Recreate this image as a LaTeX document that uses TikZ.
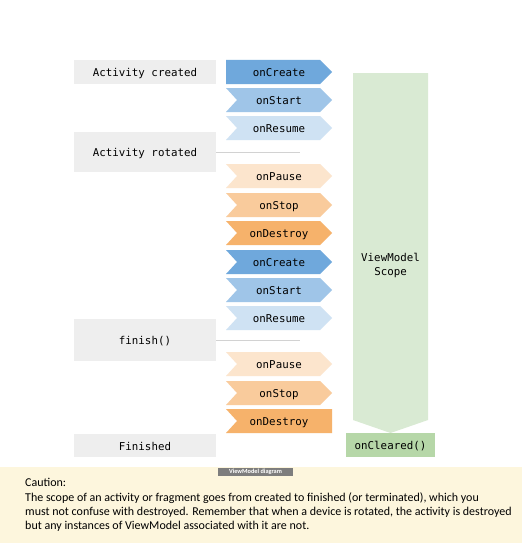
\documentclass[tikz,border=0pt]{standalone}
\usepackage{fontspec}
\setmainfont{Carlito}
\setmonofont{DejaVu Sans Mono}
\definecolor{graybox}{RGB}{238,238,238}
\definecolor{cblue}{RGB}{111,168,220}
\definecolor{cbluemid}{RGB}{159,197,232}
\definecolor{cbluelight}{RGB}{207,226,243}
\definecolor{corlight}{RGB}{252,229,205}
\definecolor{cormid}{RGB}{249,203,156}
\definecolor{cordark}{RGB}{246,178,107}
\definecolor{scopegreen}{RGB}{217,234,211}
\definecolor{cleargreen}{RGB}{182,215,168}
\definecolor{cautionbg}{RGB}{253,246,221}
\definecolor{linegray}{RGB}{210,210,210}
\definecolor{labelgray}{RGB}{125,125,125}
\tikzset{
  monotext/.style={font=\fontsize{10.8}{13}\selectfont\ttfamily, text=black, inner sep=0pt, anchor=base},
  graystate/.style={fill=graybox},
  sepline/.style={draw=linegray, line width=0.8pt},
  cautiontext/.style={anchor=base west, inner sep=0pt, font=\fontsize{12}{14}\selectfont},
}
% chevron: name, top y, colour, text, left notch (0/11), right tip (0/12)
\newcommand\chevshape[6]{%
  \fill[#3] (226,#2) -- (320+#6,#2) -- (332,#2+12) -- (320+#6,#2+24) -- (226,#2+24) -- (226+#5,#2+12) -- cycle;
  \node[monotext] (#1) at (279,#2+16.5) {#4};
}
\begin{document}
\begin{tikzpicture}[x=1pt,y=-1pt]
\useasboundingbox (0,0) rectangle (522,543);
\fill[white] (0,0) rectangle (522,543);
% caution panel
\fill[cautionbg] (0,467) rectangle (522,543);
% left state boxes
\fill[graystate] (74,60) rectangle (216,84);
\node[monotext] (created) at (145,76.5) {Activity created};
\fill[graystate] (74,132) rectangle (216,172);
\node[monotext] (rotated) at (145,156.5) {Activity rotated};
\coordinate (rotend) at (300,152);
\fill[graystate] (74,319) rectangle (216,361);
\node[monotext] (finish) at (145,344.5) {finish()};
\coordinate (finend) at (300,340);
\fill[graystate] (74,434) rectangle (216,457);
\node[monotext] (finished) at (145,450) {Finished};
\coordinate (rotstart) at (216,152);
\coordinate (finstart) at (216,340);
\draw[sepline] (rotstart) -- (rotend);
\draw[sepline] (finstart) -- (finend);
% chevrons
\chevshape{c1}{60}{cblue}{onCreate}{0}{0}
\chevshape{c2}{88}{cbluemid}{onStart}{11}{0}
\chevshape{c3}{116}{cbluelight}{onResume}{11}{0}
\chevshape{c4}{164}{corlight}{onPause}{11}{0}
\chevshape{c5}{193}{cormid}{onStop}{11}{0}
\chevshape{c6}{221}{cordark}{onDestroy}{11}{0}
\chevshape{c7}{250}{cblue}{onCreate}{11}{0}
\chevshape{c8}{278}{cbluemid}{onStart}{11}{0}
\chevshape{c9}{306}{cbluelight}{onResume}{11}{0}
\chevshape{c10}{352}{corlight}{onPause}{11}{0}
\chevshape{c11}{381}{cormid}{onStop}{11}{0}
\chevshape{c12}{409}{cordark}{onDestroy}{11}{12}
% scope arrow
\fill[scopegreen] (353,73) -- (428,73) -- (428,420) -- (390.5,433) -- (353,420) -- cycle;
\node[monotext] (scope1) at (390.5,261) {ViewModel};
\node[monotext] (scope2) at (390.5,275) {Scope};
\fill[cleargreen] (346,433) rectangle (435,457);
\node[monotext] (cleared) at (390.5,449.5) {onCleared()};
% small label
\fill[labelgray] (218,468) rectangle (293,476);
\node[font=\fontsize{6.3}{7}\selectfont\bfseries, text=white, inner sep=0pt] (lbl) at (255.5,472) {ViewModel diagram};
% caution text
\node[cautiontext] (caution0) at (25,486) {Caution:};
\node[cautiontext] (caution1) at (25,501) {The scope of an activity or fragment goes from created to finished (or terminated), which you};
\node[cautiontext] (caution2) at (25,515) {must not confuse with destroyed. Remember that when a device is rotated, the activity is destroyed};
\node[cautiontext] (caution3) at (25,529) {but any instances of ViewModel associated with it are not.};
\end{tikzpicture}
\end{document}
